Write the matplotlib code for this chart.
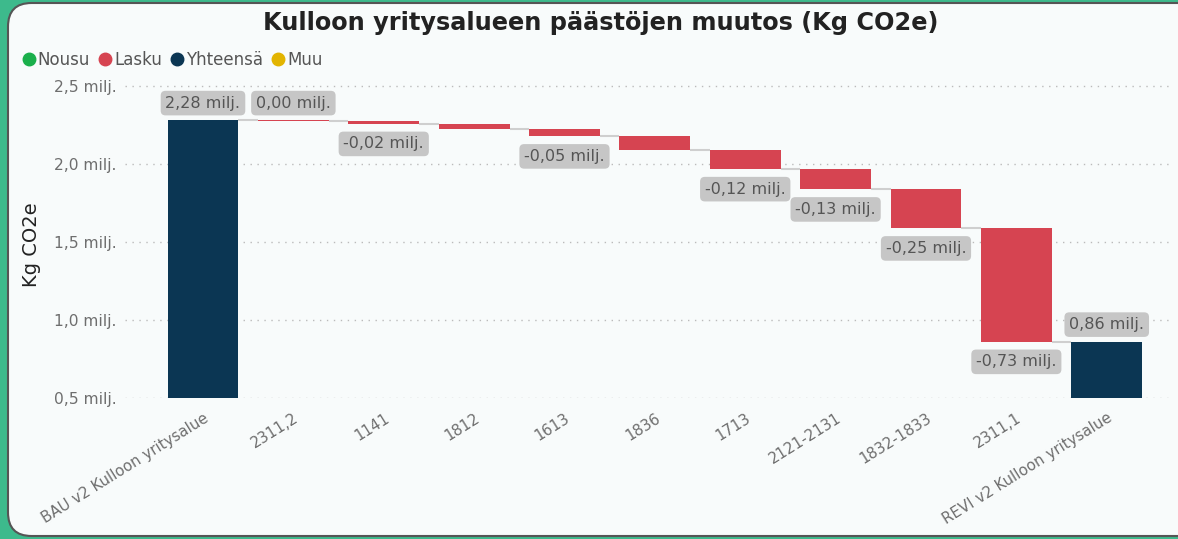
import matplotlib.pyplot as plt
import numpy as np
from matplotlib.patches import FancyBboxPatch
from matplotlib.lines import Line2D

# data (Kg CO2e, millions)
categories = ["BAU v2 Kulloon yritysalue", "2311,2", "1141", "1812", "1613", "1836",
              "1713", "2121-2131", "1832-1833", "2311,1", "REVI v2 Kulloon yritysalue"]
start_total = 2.28
changes = [-0.003, -0.02, -0.03, -0.05, -0.09, -0.12, -0.13, -0.25, -0.727]
show_label = [True, True, True, False, True, False, True, True, True, True, True]
yticks = [0.5, 1.0, 1.5, 2.0, 2.5]
legend_names = ["Nousu", "Lasku", "Yhteensä", "Muu"]

c_up, c_down, c_total, c_other = "#1aaf4b", "#d64451", "#0b3653", "#e2b400"
bg = "#f8fbfb"
txt = "#6e6e6e"


def fmt(v):
    s = f"{v:.2f}"
    if s == "-0.00":
        s = "0.00"
    return s.replace(".", ",") + " milj."


fig = plt.figure(figsize=(11.78, 5.39), dpi=100)
fig.patch.set_facecolor("#3dba8c")
# rounded white panel behind everything
panel = FancyBboxPatch((8 / 1178, 3 / 539), 1.2, 533 / 539,
                       boxstyle="round,pad=0,rounding_size=0.02",
                       transform=fig.transFigure, facecolor=bg,
                       edgecolor="#555555", lw=1.5, zorder=-10, mutation_aspect=2.2)
fig.patches.append(panel)

ax = fig.add_axes([125 / 1178, (539 - 398) / 539, 1045 / 1178, 319.8 / 539])
ax.set_facecolor("none")

x = np.arange(len(categories))
w = 0.785
levels = [start_total]
for c in changes:
    levels.append(levels[-1] + c)
end_total = levels[-1]

base = 0.5
# totals
ax.bar(x[0], start_total - base, bottom=base, width=w, color=c_total, zorder=3)
ax.bar(x[-1], end_total - base, bottom=base, width=w, color=c_total, zorder=3)
# changes
for i, c in enumerate(changes):
    lo = min(levels[i], levels[i + 1])
    col = c_down if c < 0 else c_up
    ax.bar(x[i + 1], abs(c), bottom=lo, width=w, color=col, zorder=3)

# connectors
for i in range(len(levels)):
    ax.plot([x[i] + w / 2, x[i + 1] - w / 2], [levels[i], levels[i]],
            color="#cfcfcf", lw=1.5, zorder=2, solid_capstyle="butt")

# value labels
box = dict(boxstyle="round,pad=0.3,rounding_size=0.3", fc="#c6c6c6", ec="none")
values = [start_total] + changes + [end_total]
for i, v in enumerate(values):
    if not show_label[i]:
        continue
    if i == 0 or i == len(values) - 1:
        y, va, off = (start_total if i == 0 else end_total), "bottom", 7
    elif v < 0 and round(v, 2) != 0:
        y, va, off = levels[i], "top", -9
    else:
        y, va, off = levels[i - 1], "bottom", 7
    ax.annotate(fmt(v), (x[i], y), xytext=(0, off), textcoords="offset points",
                ha="center", va=va, fontsize=11.5, color="#555555", bbox=box, zorder=5)

ax.set_xlim(-0.863, 10.70)
ax.set_ylim(0.5, 2.55)
ax.set_yticks(yticks)
ax.set_yticklabels([f"{t:.1f}".replace(".", ",") + " milj." for t in yticks],
                   color=txt, fontsize=11.2)
ax.set_xticks(x)
ax.set_xticklabels(categories, rotation=32, ha="right", rotation_mode="anchor",
                   color=txt, fontsize=10.8)
ax.tick_params(length=0, axis="both")
ax.tick_params(axis="y", pad=6)
ax.tick_params(axis="x", pad=9)
for s in ax.spines.values():
    s.set_visible(False)
ax.grid(axis="y", linestyle=(0, (1, 4)), color="#bbbbbb", lw=1, zorder=0)
ax.set_ylabel("Kg CO2e", fontsize=14, color="#222222")
ax.yaxis.set_label_coords(-0.080, 0.48)

fig.text(0.51, 0.957, "Kulloon yritysalueen päästöjen muutos (Kg CO2e)",
         ha="center", va="center", fontsize=17.3, fontweight="bold", color="#222222")

handles = [Line2D([], [], marker="o", ls="", color=c, markersize=9)
           for c in (c_up, c_down, c_total, c_other)]
fig.legend(handles, legend_names, loc="center left", bbox_to_anchor=(0.003, 0.889),
           ncol=4, frameon=False, handletextpad=-0.05, columnspacing=0.3,
           fontsize=12, labelcolor="#555555", handlelength=1.2)

fig.savefig("out.png", dpi=100, facecolor=fig.get_facecolor())
